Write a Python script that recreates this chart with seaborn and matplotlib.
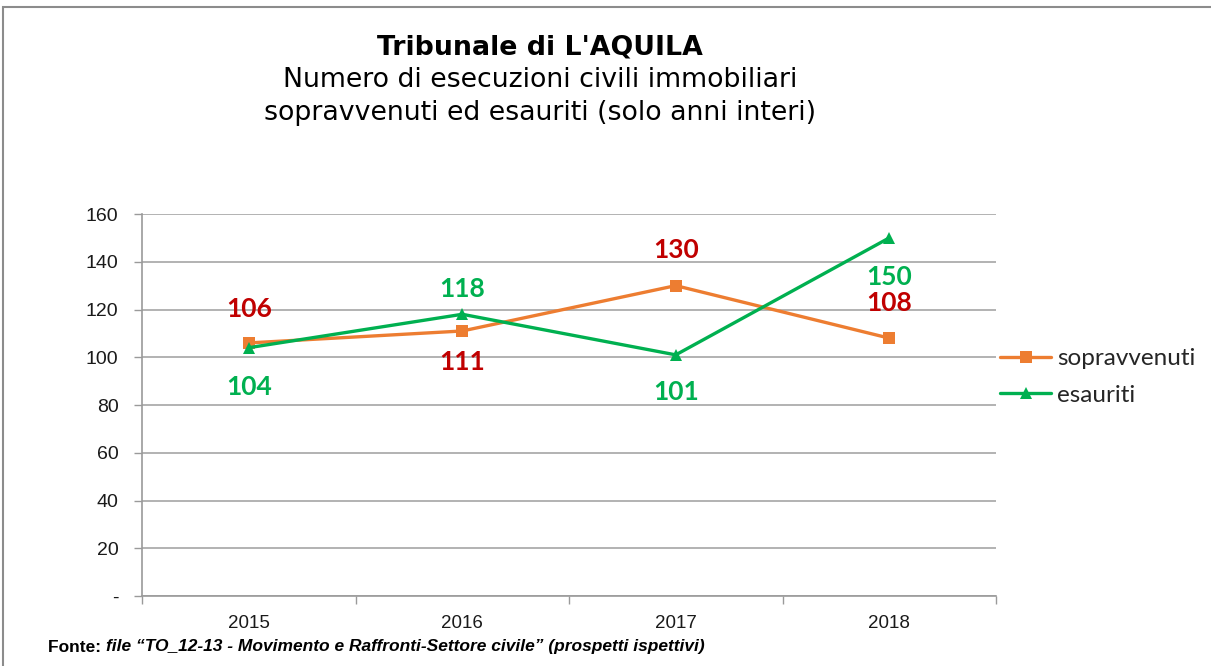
import matplotlib
matplotlib.use("Agg")
import matplotlib.pyplot as plt
import seaborn as sns
import pandas as pd
from matplotlib.patches import Rectangle
from matplotlib.ticker import FixedLocator
from matplotlib.lines import Line2D

# ---- data ----
years = ["2015", "2016", "2017", "2018"]
sopravvenuti = [106, 111, 130, 108]
esauriti = [104, 118, 101, 150]
series_names = ["sopravvenuti", "esauriti"]
yticks = [0, 20, 40, 60, 80, 100, 120, 140, 160]
ytick_labels = ["-", "20", "40", "60", "80", "100", "120", "140", "160"]
title = "Tribunale di L'AQUILA"
subtitle1 = "Numero di esecuzioni civili immobiliari"
subtitle2 = "sopravvenuti ed esauriti (solo anni interi)"
source_bold = "Fonte: "
source_italic = "file \u201cTO_12-13 - Movimento e Raffronti-Settore civile\u201d (prospetti ispettivi)"

df = pd.DataFrame({
    "x": list(range(len(years))) * 2,
    "value": sopravvenuti + esauriti,
    "serie": [series_names[0]] * len(years) + [series_names[1]] * len(years),
})

sns.set_theme(style="white")
plt.rcParams["font.family"] = ["Liberation Sans", "DejaVu Sans"]

fig = plt.figure(figsize=(12.11, 6.66), dpi=100)
ax = fig.add_axes([142 / 1211, 70 / 666, 854 / 1211, 382 / 666])

orange = "#ED7D31"
green = "#00B050"
palette = {"sopravvenuti": orange, "esauriti": green}
markers = {"sopravvenuti": "s", "esauriti": "^"}

sns.lineplot(data=df, x="x", y="value", hue="serie", style="serie",
             palette=palette, markers=markers, dashes=False, ax=ax,
             linewidth=2.4, markersize=9, markeredgewidth=0, legend=False)

ax.set_xlim(-0.5, len(years) - 0.5)
ax.set_ylim(0, 160)
ax.set_xlabel("")
ax.set_ylabel("")

# ticks
ax.set_xticks(range(len(years)))
ax.set_xticklabels(years, fontsize=13.5, color="#1A1A1A")
ax.xaxis.set_minor_locator(FixedLocator([i - 0.5 for i in range(len(years) + 1)]))
ax.tick_params(axis="x", which="major", length=0, pad=14)
ax.tick_params(axis="x", which="minor", length=6, width=1, color="#9A9A9A", direction="out")
ax.set_yticks(yticks)
ax.set_yticklabels(ytick_labels, fontsize=14, color="#1A1A1A")
ax.tick_params(axis="y", which="major", length=6, width=1, color="#9A9A9A", direction="out", pad=11)
ax.tick_params(axis="both", bottom=True, left=True)
ax.xaxis.set_tick_params(which="minor", bottom=True)

ax.grid(axis="y", color="#A6A6A6", linewidth=1.2)
ax.set_axisbelow(True)
for s in ["top", "right"]:
    ax.spines[s].set_visible(False)
for s in ["left", "bottom"]:
    ax.spines[s].set_color("#9A9A9A")
    ax.spines[s].set_linewidth(1.2)

# data labels
label_font = ["Lato", "DejaVu Sans"]
sop_offsets = [24.5, -22, 26, 25]
esa_offsets = [-28, 18, -27, -28]
for i, v in enumerate(sopravvenuti):
    ax.annotate(str(v), (i, v), xytext=(0, sop_offsets[i]), textcoords="offset points",
                ha="center", va="center", color="#C00000", fontsize=19,
                fontweight="bold", family=label_font)
for i, v in enumerate(esauriti):
    ax.annotate(str(v), (i, v), xytext=(0, esa_offsets[i]), textcoords="offset points",
                ha="center", va="center", color=green, fontsize=19,
                fontweight="bold", family=label_font)

# legend
handles = [Line2D([], [], color=orange, marker="s", lw=2.4, markersize=9, markeredgewidth=0),
           Line2D([], [], color=green, marker="^", lw=2.4, markersize=9, markeredgewidth=0)]
fig.legend(handles, series_names, loc="center left",
           bbox_to_anchor=(1000 / 1211, 1 - 377 / 666), frameon=False,
           prop={"family": ["Lato", "DejaVu Sans"], "size": 17.5},
           handlelength=2.1, handletextpad=0.25, labelspacing=0.62,
           borderpad=0, borderaxespad=0)

# titles
title_font = ["DejaVu Sans"]
fig.text(540 / 1211, 1 - 47 / 666, title, ha="center", va="center",
         fontsize=19.3, fontweight="bold", color="black", family=title_font)
fig.text(540 / 1211, 1 - 80 / 666, subtitle1, ha="center", va="center",
         fontsize=19.3, color="black", family=title_font)
fig.text(540 / 1211, 1 - 113 / 666, subtitle2, ha="center", va="center",
         fontsize=19.3, color="black", family=title_font)

# source
t1 = fig.text(48 / 1211, 1 - 647 / 666, source_bold, ha="left", va="center",
              fontsize=12.5, fontweight="bold", color="black")
fig.canvas.draw()
bb = t1.get_window_extent()
fig.text(bb.x1 / 1211, 1 - 647 / 666, source_italic, ha="left", va="center",
         fontsize=12.5, fontstyle="italic", fontweight="bold", color="black")

# outer frame
fig.patches.append(Rectangle((3 / 1211, -0.1), 1.2, 1 - 7 / 666 + 0.1,
                             transform=fig.transFigure, fill=False,
                             edgecolor="#8C8C8C", linewidth=1.5))

fig.savefig("out.png", dpi=100)
